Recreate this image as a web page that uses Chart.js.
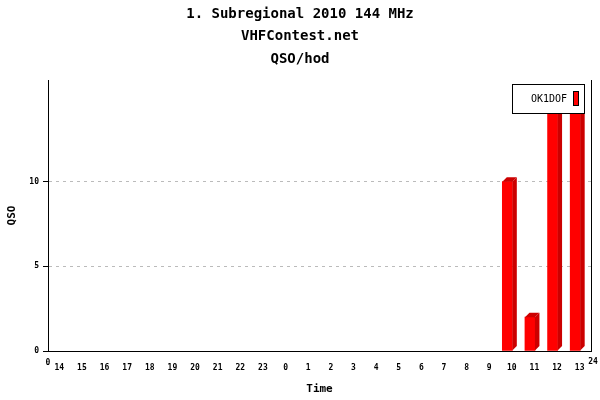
<!DOCTYPE html>
<html>
<head>
<meta charset="utf-8">
<script src="https://cdn.jsdelivr.net/npm/chart.js@4.4.1/dist/chart.umd.min.js"></script>
<style>
  body { margin: 0; background: #fff; }
</style>
</head>
<body>
<canvas id="graf" width="600" height="400"></canvas>
<script>
// titulky
const titleLines = ['1. Subregional 2010 144 MHz', 'VHFContest.net', 'QSO/hod'];
const xTitle = 'Time';
const yTitle = 'QSO';
const seriesName = 'OK1DOF';

// hodiny zavodu (14:00 - 13:00)
const hours = ['14', '15', '16', '17', '18', '19', '20', '21', '22', '23',
               '0', '1', '2', '3', '4', '5', '6', '7', '8', '9',
               '10', '11', '12', '13'];
const qso = [0, 0, 0, 0, 0, 0, 0, 0, 0, 0,
             0, 0, 0, 0, 0, 0, 0, 0, 0, 0,
             10, 2, 15, 15];
const yTicks = [0, 5, 10];
const axisEnds = ['0', '24'];

const mono = '"DejaVu Sans Mono", monospace';
const depth = 4.5; // hloubka 3D efektu

// 3D strana a vrsek sloupcu, legenda
const bar3d = {
  id: 'bar3d',
  beforeDatasetsDraw(chart) {
    const ctx = chart.ctx;
    const area = chart.chartArea;
    ctx.save();
    ctx.beginPath();
    ctx.rect(area.left, area.top, area.right - area.left, area.bottom - area.top);
    ctx.clip();
    // posun aby byl cely 3D sloupec na stredu kategorie
    ctx.translate(-depth, 0);
  },
  afterDatasetsDraw(chart) {
    const ctx = chart.ctx;
    const d = depth;
    ctx.fillStyle = '#cc0000';
    chart.getDatasetMeta(0).data.forEach((b, i) => {
      if (!qso[i]) return;
      const l = b.x - b.width / 2, r = b.x + b.width / 2;
      ctx.beginPath();
      ctx.moveTo(r, b.y);
      ctx.lineTo(r + d, b.y - d);
      ctx.lineTo(r + d, b.base - d);
      ctx.lineTo(r, b.base);
      ctx.closePath();
      ctx.fill();
      ctx.beginPath();
      ctx.moveTo(l, b.y);
      ctx.lineTo(l + d, b.y - d);
      ctx.lineTo(r + d, b.y - d);
      ctx.lineTo(r, b.y);
      ctx.closePath();
      ctx.fill();
    });
    ctx.restore();
  },
  afterDraw(chart) {
    const ctx = chart.ctx;
    const xs = chart.scales.x;
    const area = chart.chartArea;
    ctx.save();
    // popisky na koncich osy x
    ctx.font = 'bold 8px ' + mono;
    ctx.fillStyle = '#000';
    ctx.textAlign = 'center';
    ctx.textBaseline = 'middle';
    ctx.fillText(axisEnds[0], xs.left, xs.top + 12);
    ctx.fillText(axisEnds[1], xs.right + 2, xs.top + 11);
    // legenda vpravo nahore
    const lw = 73, lh = 30;
    const lx = area.right - 79, ly = area.top + 4;
    ctx.fillStyle = '#fff';
    ctx.fillRect(lx, ly, lw, lh);
    ctx.strokeStyle = '#000';
    ctx.lineWidth = 1;
    ctx.strokeRect(lx + 0.5, ly + 0.5, lw - 1, lh - 1);
    ctx.font = '10px ' + mono;
    ctx.fillStyle = '#000';
    ctx.textAlign = 'left';
    ctx.fillText(seriesName, lx + 19, ly + lh / 2);
    ctx.fillStyle = '#ff0000';
    ctx.fillRect(lx + 61, ly + 7, 6, 15);
    ctx.strokeRect(lx + 61.5, ly + 7.5, 5, 14);
    ctx.restore();
  }
};

new Chart(document.getElementById('graf'), {
  type: 'bar',
  data: {
    labels: hours,
    datasets: [{
      label: seriesName,
      data: qso,
      backgroundColor: c => c.raw ? '#ff0000' : 'rgba(0,0,0,0)',
      borderWidth: 0,
      barThickness: 10
    }]
  },
  options: {
    responsive: false,
    animation: false,
    layout: { padding: 0 },
    plugins: {
      legend: { display: false },
      tooltip: { enabled: false },
      title: {
        display: true,
        text: titleLines,
        color: '#000',
        font: { family: mono, size: 14, weight: 'bold', lineHeight: '22.5px' },
        padding: { top: 3, bottom: 9.5 }
      }
    },
    scales: {
      x: {
        grid: { display: false },
        border: { display: true, color: '#000', width: 1 },
        ticks: { color: '#000', font: { family: mono, size: 8, weight: 'bold' }, padding: 4, maxRotation: 0, autoSkip: false },
        title: { display: true, text: xTitle, color: '#000', font: { family: mono, size: 11, weight: 'bold' }, padding: { top: 0, bottom: 4 } },
        afterFit(axis) { axis.height = 49; }
      },
      y: {
        min: 0,
        max: 16,
        afterBuildTicks(axis) { axis.ticks = yTicks.map(v => ({ value: v })); },
        grid: {
          color: c => (c.tick && c.tick.value === 0) ? 'rgba(0,0,0,0)' : '#bbbbbb',
          tickColor: '#000',
          tickLength: 5,
          tickBorderDash: []
        },
        border: { display: true, color: '#000', width: 1, dash: [3, 4] },
        ticks: { color: '#000', font: { family: mono, size: 8, weight: 'bold' }, padding: 4 },
        title: { display: true, text: yTitle, color: '#000', font: { family: mono, size: 11, weight: 'bold' }, padding: { top: 6, bottom: 0 } },
        afterFit(axis) { axis.width = 48; }
      },
      y2: {
        position: 'right',
        grid: { display: false },
        ticks: { display: false },
        border: { display: true, color: '#000', width: 1 },
        afterFit(axis) { axis.width = 9; }
      }
    }
  },
  plugins: [bar3d]
});
</script>
</body>
</html>
